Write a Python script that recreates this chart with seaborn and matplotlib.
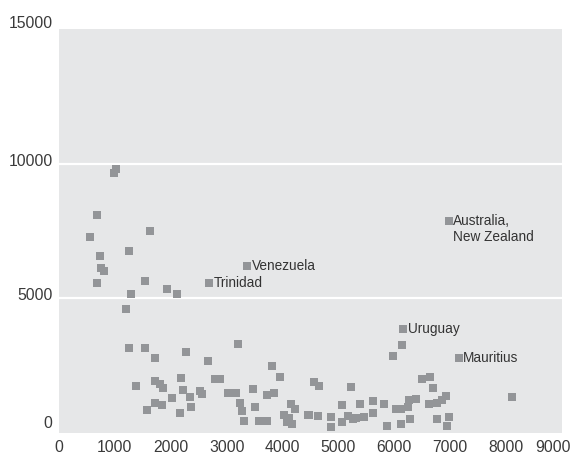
import numpy as np
import pandas as pd
import matplotlib
matplotlib.use("Agg")
import matplotlib.pyplot as plt
from matplotlib.transforms import ScaledTranslation
import seaborn as sns

# Unlabelled observations (x, y)
x_vals = [674, 549, 1628, 1247, 728, 746, 811, 674, 1533, 1282, 1932, 2111,
          1020, 990, 1199, 1247, 1533, 1712, 2272, 3197, 2666, 3811, 3954,
          1378, 1712, 1807, 1861, 2183, 2213, 2344, 2016, 2517, 2564, 2797,
          2886, 3023, 3172, 3465, 3716, 3852, 1718, 1843, 1569, 2165, 2356,
          3233, 3268, 3501, 3310, 3573, 3716, 4150, 4228, 4031, 4121, 4079,
          4163, 4461, 6136, 5975, 8099, 4556, 4646, 5224, 6489, 6637, 6691,
          6923, 6847, 6768, 6614, 6387, 6267, 6249, 6118, 6029, 5814, 5617,
          5385, 5063, 5617, 5451, 5313, 5254, 5165, 5063, 4866, 4866, 4628,
          4478, 5868, 6118, 6279, 6757, 6972, 6936]
y_vals = [8094, 7289, 7500, 6758, 6572, 6138, 6027, 5581, 5655, 5161, 5347, 5161,
          9790, 9665, 4616, 3168, 3168, 2797, 3019, 3317, 2673, 2500, 2091,
          1757, 1943, 1819, 1683, 2054, 1608, 1348, 1311, 1571, 1460, 2016,
          2016, 1497, 1497, 1645, 1422, 1497, 1125, 1051, 865, 754, 977,
          1125, 828, 977, 457, 457, 457, 1077, 880, 668, 545, 397,
          323, 668, 3279, 2870, 1348, 1906, 1745, 1708, 2005, 2079, 1683,
          1386, 1225, 1125, 1077, 1262, 1225, 954, 891, 880, 1077, 1188,
          1077, 1040, 754, 605, 545, 508, 643, 420, 605, 234, 631,
          668, 271, 334, 508, 531, 605, 260]

# Named observations
label_names = ["Australia,\nNew Zealand", "Venezuela", "Trinidad", "Uruguay", "Mauritius"]
label_x = [6972, 3369, 2689, 6160, 7150]
label_y = [7883, 6212, 5581, 3850, 2797]

x_ticks = [0, 1000, 2000, 3000, 4000, 5000, 6000, 7000, 8000, 9000]
y_ticks = [0, 5000, 10000, 15000]

sns.set_theme(style="white")
plt.rcParams["font.family"] = ["Liberation Sans", "DejaVu Sans"]

df = pd.DataFrame({"x": x_vals + label_x, "y": y_vals + label_y})

fig = plt.figure(figsize=(5.72, 4.57), dpi=100)
ax = fig.add_axes([59 / 572, 1 - 433 / 457, 503 / 572, 404 / 457])
ax.set_facecolor("#e6e7e8")

sns.scatterplot(data=df, x="x", y="y", marker="s", s=30, color="#939598",
                linewidth=0, ax=ax, zorder=3)

for name, xv, yv in zip(label_names, label_x, label_y):
    multi = "\n" in name
    ax.annotate(name, (xv, yv), xytext=(3.4, 4.6 if multi else 0),
                textcoords="offset points", ha="left",
                va="top" if multi else "center",
                fontsize=9.8, color="#333333", linespacing=1.2,
                zorder=4)

ax.set_xlim(0, 9000)
ax.set_ylim(0, 15000)
ax.set_xticks(x_ticks)
ax.set_yticks(y_ticks)
ax.set_xticklabels([str(t) for t in x_ticks])
ax.set_yticklabels([str(t) for t in y_ticks])
ax.set_xlabel("")
ax.set_ylabel("")

for s in ax.spines.values():
    s.set_visible(False)

# white horizontal rules at the interior y ticks
for yv in y_ticks[1:-1]:
    ax.axhline(yv, color="white", linewidth=1.6, zorder=1)

ax.tick_params(axis="x", direction="in", length=7, width=1.2, color="white",
               pad=5, labelsize=11.3, labelcolor="#3a3a3a")
ax.tick_params(axis="y", length=0, pad=4.5, labelsize=11.3, labelcolor="#3a3a3a")
for t in ax.xaxis.get_major_ticks():
    t.tick1line.set_zorder(2)

# nudge y labels upward and the last x label inward
y_shift = [8.0, 3.3, 3.0, 5.0]
for lab, dy in zip(ax.get_yticklabels(), y_shift):
    lab.set_transform(lab.get_transform() + ScaledTranslation(0, dy / 72, fig.dpi_scale_trans))
xlabs = ax.get_xticklabels()
xlabs[-1].set_transform(xlabs[-1].get_transform() + ScaledTranslation(-6.5 / 72, 0, fig.dpi_scale_trans))

fig.savefig("out.png", dpi=100)
